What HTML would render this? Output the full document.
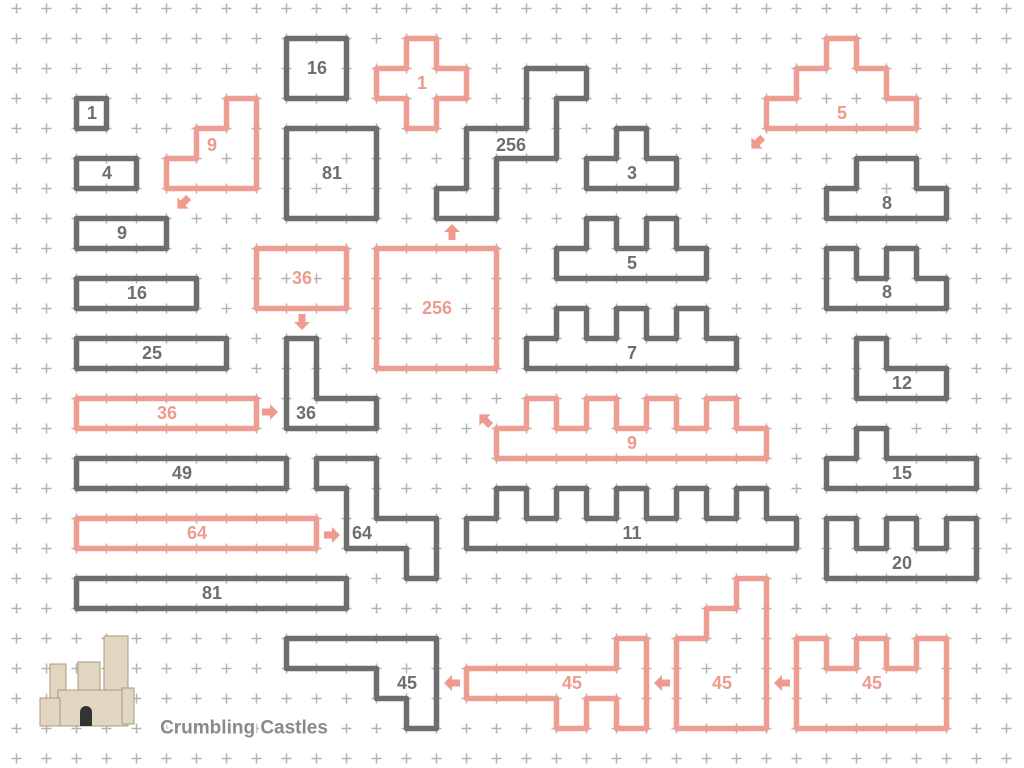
<!DOCTYPE html>
<html><head><meta charset="utf-8"><style>
html,body{margin:0;padding:0;background:#fff;}
svg{display:block}
text{font-family:"Liberation Sans",sans-serif;font-weight:bold;font-size:18px;text-anchor:middle;dominant-baseline:central;paint-order:stroke;stroke:#fff;stroke-width:5px;stroke-linejoin:round}
.g{fill:none;stroke:#6e6e6e;stroke-width:5.5;stroke-linejoin:round;vector-effect:non-scaling-stroke}
.r{fill:none;stroke:#ee9d92;stroke-width:5.5;stroke-linejoin:round;vector-effect:non-scaling-stroke}
.tg{fill:#6e6e6e}.tr{fill:#ee9a8f}
</style></head><body>
<svg width="1024" height="768" viewBox="0 0 1024 768">
<defs>
<pattern id="p" patternUnits="userSpaceOnUse" x="1.5" y="-6.5" width="30" height="30">
<path d="M10 15H20M15 10V20" stroke="#b3b3b3" stroke-width="1.5"/>
</pattern>
<path id="ar" d="M-8,-3.5 L0,-3.5 L0,-8 L8,0 L0,8 L0,3.5 L-8,3.5Z" fill="#ee9a8f"/>
</defs>
<rect width="1024" height="768" fill="url(#p)"/>
<g transform="translate(16.5,8.5) scale(30)">
<rect class="g" x="2" y="3" width="1" height="1"/>
<rect class="g" x="2" y="5" width="2" height="1"/>
<rect class="g" x="2" y="7" width="3" height="1"/>
<rect class="g" x="2" y="9" width="4" height="1"/>
<rect class="g" x="2" y="11" width="5" height="1"/>
<rect class="g" x="2" y="15" width="7" height="1"/>
<rect class="g" x="2" y="19" width="9" height="1"/>
<rect class="g" x="9" y="1" width="2" height="2"/>
<rect class="g" x="9" y="4" width="3" height="3"/>
<rect class="r" x="2" y="13" width="6" height="1"/>
<rect class="r" x="2" y="17" width="8" height="1"/>
<rect class="r" x="8" y="8" width="3" height="2"/>
<rect class="r" x="12" y="8" width="4" height="4"/>
<polygon class="r" points="5,5 6,5 6,4 7,4 7,3 8,3 8,6 5,6"/>
<polygon class="r" points="13,1 14,1 14,2 15,2 15,3 14,3 14,4 13,4 13,3 12,3 12,2 13,2"/>
<polygon class="r" points="16,14 17,14 17,13 18,13 18,14 19,14 19,13 20,13 20,14 21,14 21,13 22,13 22,14 23,14 23,13 24,13 24,14 25,14 25,15 16,15"/>
<polygon class="r" points="25,3 26,3 26,2 27,2 27,1 28,1 28,2 29,2 29,3 30,3 30,4 25,4"/>
<polygon class="r" points="15,22 20,22 20,21 21,21 21,24 20,24 20,23 19,23 19,24 18,24 18,23 15,23"/>
<polygon class="r" points="22,21 23,21 23,20 24,20 24,19 25,19 25,24 22,24"/>
<polygon class="r" points="26,21 27,21 27,22 28,22 28,21 29,21 29,22 30,22 30,21 31,21 31,24 26,24"/>
<polygon class="g" points="17,2 19,2 19,3 18,3 18,5 16,5 16,7 14,7 14,6 15,6 15,4 17,4"/>
<polygon class="g" points="9,11 10,11 10,13 12,13 12,14 9,14"/>
<polygon class="g" points="10,15 12,15 12,17 14,17 14,19 13,19 13,18 11,18 11,16 10,16"/>
<polygon class="g" points="19,5 20,5 20,4 21,4 21,5 22,5 22,6 19,6"/>
<polygon class="g" points="18,8 19,8 19,7 20,7 20,8 21,8 21,7 22,7 22,8 23,8 23,9 18,9"/>
<polygon class="g" points="17,11 18,11 18,10 19,10 19,11 20,11 20,10 21,10 21,11 22,11 22,10 23,10 23,11 24,11 24,12 17,12"/>
<polygon class="g" points="15,17 16,17 16,16 17,16 17,17 18,17 18,16 19,16 19,17 20,17 20,16 21,16 21,17 22,17 22,16 23,16 23,17 24,17 24,16 25,16 25,17 26,17 26,18 15,18"/>
<polygon class="g" points="27,6 28,6 28,5 30,5 30,6 31,6 31,7 27,7"/>
<polygon class="g" points="27,8 28,8 28,9 29,9 29,8 30,8 30,9 31,9 31,10 27,10"/>
<polygon class="g" points="28,11 29,11 29,12 31,12 31,13 28,13"/>
<polygon class="g" points="27,15 28,15 28,14 29,14 29,15 32,15 32,16 27,16"/>
<polygon class="g" points="27,17 28,17 28,18 29,18 29,17 30,17 30,18 31,18 31,17 32,17 32,19 27,19"/>
<polygon class="g" points="9,21 14,21 14,24 13,24 13,23 12,23 12,22 9,22"/>
</g>
<use href="#ar" transform="translate(270,412)"/>
<use href="#ar" transform="translate(332,535)"/>
<use href="#ar" transform="translate(302,322) rotate(90)"/>
<use href="#ar" transform="translate(452,232) rotate(-90)"/>
<use href="#ar" transform="translate(452,683) rotate(180)"/>
<use href="#ar" transform="translate(662,683) rotate(180)"/>
<use href="#ar" transform="translate(782,683) rotate(180)"/>
<use href="#ar" transform="translate(183,203) rotate(135)"/>
<use href="#ar" transform="translate(757,143) rotate(135)"/>
<use href="#ar" transform="translate(485,420) rotate(-135)"/>
<g class="tg">
<text x="92" y="113">1</text><text x="107" y="173">4</text><text x="122" y="233">9</text>
<text x="137" y="293">16</text><text x="152" y="353">25</text><text x="182" y="473">49</text>
<text x="212" y="593">81</text><text x="317" y="68">16</text><text x="332" y="173">81</text>
<text x="511" y="145">256</text><text x="306" y="413">36</text><text x="362" y="533">64</text>
<text x="632" y="173">3</text><text x="632" y="263">5</text><text x="632" y="353">7</text>
<text x="632" y="533">11</text><text x="887" y="203">8</text><text x="887" y="292">8</text>
<text x="902" y="383">12</text><text x="902" y="473">15</text><text x="902" y="563">20</text>
<text x="407" y="683">45</text>
</g>
<g class="tr">
<text x="212" y="145">9</text><text x="167" y="413">36</text><text x="197" y="533">64</text>
<text x="422" y="83">1</text><text x="302" y="278">36</text><text x="437" y="308">256</text>
<text x="632" y="443">9</text><text x="842" y="113">5</text>
<text x="572" y="683">45</text><text x="722" y="683">45</text><text x="872" y="683">45</text>
</g>
<g fill="#e2d6c0" stroke="#a89a80" stroke-width="1">
<rect x="104" y="636" width="24" height="90"/>
<rect x="78" y="662" width="22" height="64"/>
<rect x="50" y="664" width="16" height="62"/>
<rect x="58" y="690" width="70" height="36"/>
<rect x="40" y="698" width="20" height="28"/>
<rect x="122" y="688" width="12" height="36"/>
</g>
<path d="M80 726 v-14 a6 6 0 0 1 12 0 v14z" fill="#333"/>
<text x="244" y="728" style="font-size:19px;fill:#8a8a8a;font-weight:bold">Crumbling Castles</text>
</svg>
</body></html>
